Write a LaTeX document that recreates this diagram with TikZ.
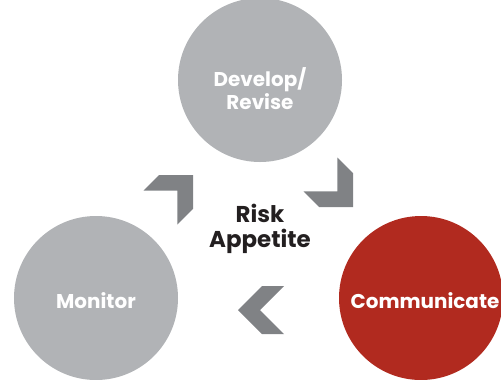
\documentclass[tikz,border=0pt]{standalone}
\usepackage{fontspec}
\setmainfont{Poppins}
\usepackage{xcolor}
\usetikzlibrary{positioning}

\definecolor{stepgray}{HTML}{B1B3B6}
\definecolor{stepred}{HTML}{B12A1F}
\definecolor{chevgray}{HTML}{808285}
\definecolor{textdark}{HTML}{231F20}

\tikzset{
  stage/.style={circle, minimum size=164bp, inner sep=0pt},
  stagetext/.style={align=center, text=white, font=\bfseries\fontsize{20}{23}\selectfont},
  chevron/.pic={
    \fill[chevgray] (0,0) -- (-24,24) -- (-46,24) -- (-22,0) -- (-46,-24) -- (-24,-24) -- cycle;
  }
}

\begin{document}
\begin{tikzpicture}[x=1bp,y=-1bp]
          \useasboundingbox (0,0) rectangle (501,379);
          \clip (0,0) rectangle (501,379);

          % the three stages
          \node[stage, fill=stepgray] (develop) at (260,80) {};
          \node[stagetext] (develop-text) at ([yshift=-9bp]develop.center) {Develop/\\Revise};

          \node[stage, fill=stepred] (communicate) at (421,298) {};
          \node[stagetext] (communicate-text) at ([xshift=4bp,yshift=-3bp]communicate.center) {Communicate};

          \node[stage, fill=stepgray] (monitor) at (96,298) {};
          \node[stagetext] (monitor-text) at ([yshift=-3bp]monitor.center) {Monitor};

          % centre
          \node[align=center, text=textdark, font=\bfseries\fontsize{23}{25}\selectfont] (appetite) at (260,229) {Risk\\Appetite};

          % chevrons between the stages
          \pic[rotate=45] (mon-dev) at (193,175) {chevron};
          \pic[rotate=-45] (dev-com) at (353,207) {chevron};
          \pic[rotate=180] (com-mon) at (238,310) {chevron};

    \end{tikzpicture}
\end{document}
